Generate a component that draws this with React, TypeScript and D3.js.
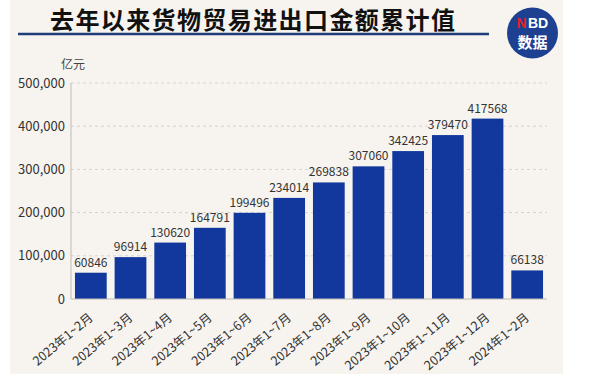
import React from "react";
import * as d3 from "d3";

const categories = [
  "2023年1~2月", "2023年1~3月", "2023年1~4月", "2023年1~5月", "2023年1~6月", "2023年1~7月",
  "2023年1~8月", "2023年1~9月", "2023年1~10月", "2023年1~11月", "2023年1~12月", "2024年1~2月",
];
const values = [60846, 96914, 130620, 164791, 199496, 234014, 269838, 307060, 342425, 379470, 417568, 66138];
const yTicks = [0, 100000, 200000, 300000, 400000, 500000];
const title = "去年以来货物贸易进出口金额累计值";
const unit = "亿元";

const W = 593, H = 383;
const FONT = "'Noto Sans CJK SC', 'Noto Sans', sans-serif";

export default function App() {
  const x = d3.scaleBand<string>().domain(categories).range([71, 547]).paddingInner(0.2).paddingOuter(0.1);
  const y = d3.scaleLinear().domain([0, 500000]).range([299, 83]);
  const fmt = d3.format(",");
  return (
    <svg width={W} height={H} style={{ position: "absolute", left: 0, top: 0, background: "#fff" }} fontFamily={FONT}>
      <rect x={10} y={0} width={553} height={374} fill="#f7f4ef" />
      <text x={50} y={29} fontSize={24} fontWeight={700} fill="#111" letterSpacing={1.4}>{title}</text>
      <line x1={18} x2={489} y1={34} y2={34} stroke="#1f3d7a" strokeWidth={2.5} />
      <circle cx={532.5} cy={33} r={25.5} fill="#1d4190" />
      <text x={526.5} y={27.5} fontSize={14} fontWeight={700} fill="#e5222a" textAnchor="end" fontFamily="'Liberation Sans', Arial, sans-serif">N</text>
      <text x={528} y={27.5} fontSize={14} fontWeight={700} fill="#fff" fontFamily="'Liberation Sans', Arial, sans-serif">BD</text>
      <text x={532.5} y={47.5} fontSize={15} fontWeight={700} textAnchor="middle" fill="#fff">数据</text>

      <text x={61} y={69} fontSize={12} fill="#444">{unit}</text>
      {yTicks.filter(t => t > 0).map(t => (
        <line key={"g" + t} x1={71} x2={547} y1={y(t)} y2={y(t)} stroke="#d6d3ce" strokeDasharray="3,3" />
      ))}
      {yTicks.map(t => (
        <text key={"t" + t} x={65} y={y(t)} dy="0.36em" fontSize={13} fill="#333" textAnchor="end">{fmt(t)}</text>
      ))}
      <line x1={71} x2={71} y1={83} y2={299} stroke="#bdbab5" />
      {categories.map((c, i) => (
        <g key={c}>
          <rect x={x(c)} y={y(values[i])} width={x.bandwidth()} height={y(0) - y(values[i])} fill="#12389e" />
          <text x={x(c)! + x.bandwidth() / 2} y={y(values[i]) - 6} fontSize={12} fill="#333" textAnchor="middle">{values[i]}</text>
          <text transform={`translate(${x(c)! + x.bandwidth() / 2 + 3},${319}) rotate(-40)`} fontSize={12.5} fill="#333" textAnchor="end">{c}</text>
        </g>
      ))}
      <line x1={71} x2={547} y1={299} y2={299} stroke="#bdbab5" />
    </svg>
  );
}
